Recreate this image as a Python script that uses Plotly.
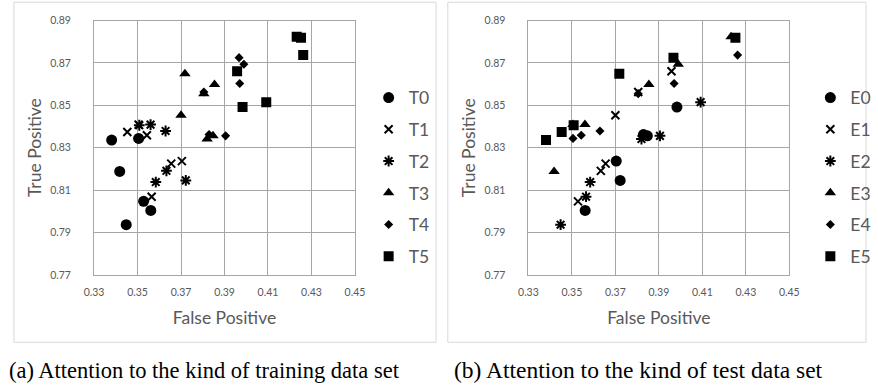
import plotly.graph_objects as go

# Test-set labels (columns) and training-set labels (rows)
test_sets = ["E0", "E1", "E2", "E3", "E4", "E5"]
train_sets = ["T0", "T1", "T2", "T3", "T4", "T5"]

# False positive / true positive for each training set, ordered by test set E0..E5
fp_T0 = [0.3561, 0.3528, 0.3448, 0.3418, 0.3505, 0.3381]
tp_T0 = [0.8004, 0.8047, 0.7937, 0.8188, 0.8344, 0.8336]
fp_T1 = [0.3704, 0.3655, 0.3565, 0.3505, 0.3543, 0.3453]
tp_T1 = [0.8237, 0.8225, 0.8069, 0.8409, 0.8359, 0.8374]
fp_T2 = [0.3722, 0.3633, 0.3584, 0.3560, 0.3629, 0.3508]
tp_T2 = [0.8146, 0.8191, 0.8138, 0.8409, 0.8379, 0.8406]
fp_T3 = [0.3847, 0.3700, 0.3820, 0.3854, 0.3805, 0.3718]
tp_T3 = [0.8356, 0.8453, 0.8341, 0.8598, 0.8555, 0.8649]
fp_T4 = [0.3829, 0.3805, 0.3905, 0.3989, 0.3970, 0.3967]
tp_T4 = [0.8362, 0.8563, 0.8356, 0.8694, 0.8603, 0.8725]
fp_T5 = [0.3983, 0.3958, 0.4092, 0.4232, 0.4262, 0.4252]
tp_T5 = [0.8492, 0.8661, 0.8515, 0.8824, 0.8737, 0.8819]

fp_rows = [fp_T0, fp_T1, fp_T2, fp_T3, fp_T4, fp_T5]
tp_rows = [tp_T0, tp_T1, tp_T2, tp_T3, tp_T4, tp_T5]

x_ticks = [0.33, 0.35, 0.37, 0.39, 0.41, 0.43, 0.45]
y_ticks = [0.77, 0.79, 0.81, 0.83, 0.85, 0.87, 0.89]

symbols = ["circle", "x-thin-open", "asterisk-open", "triangle-up", "diamond", "square"]
sizes = [11, 8, 9, 10, 7, 10]

W, H = 878, 388
GRAY = "#595959"
GRID = "#a6a6a6"

fig = go.Figure()

# Left: grouped by training set
for i, name in enumerate(train_sets):
    fig.add_trace(go.Scatter(
        x=fp_rows[i], y=tp_rows[i], mode="markers", name=name,
        legend="legend", legendgroup="L" + name,
        marker=dict(symbol=symbols[i], size=sizes[i], color="black",
                    line=dict(color="black", width=2 if i in (1, 2) else 0)),
        xaxis="x", yaxis="y"))

# Right: grouped by test set
for j, name in enumerate(test_sets):
    fig.add_trace(go.Scatter(
        x=[fp_rows[i][j] for i in range(6)], y=[tp_rows[i][j] for i in range(6)],
        mode="markers", name=name,
        legend="legend2", legendgroup="R" + name,
        marker=dict(symbol=symbols[j], size=sizes[j], color="black",
                    line=dict(color="black", width=2 if j in (1, 2) else 0)),
        xaxis="x2", yaxis="y2"))

ydom = [1 - 277.5 / H, 1 - 15 / H]
axis_common = dict(showgrid=True, gridcolor=GRID, gridwidth=1, zeroline=False,
                   showline=True, mirror=True, linecolor=GRID, linewidth=1,
                   tickfont=dict(family="Lato", size=10.5, color=GRAY),
                   tickmode="array")
xcommon = dict(axis_common, range=[0.33, 0.45], tickvals=x_ticks,
               ticktext=[f"{v:.2f}" for v in x_ticks], ticklabelstandoff=7,
               title=dict(text="False Positive", font=dict(family="Lato", size=17.5, color=GRAY), standoff=15))
ycommon = dict(axis_common, range=[0.77, 0.89], tickvals=y_ticks,
               ticktext=[f"{v:.2f}" for v in y_ticks], ticklabelstandoff=20,
               title=dict(text="True Positive", font=dict(family="Lato", size=17.5, color=GRAY), standoff=4))

legend_common = dict(xanchor="left", yanchor="top",
                     font=dict(family="Lato", size=17.5, color=GRAY), tracegroupgap=6,
                     bgcolor="rgba(0,0,0,0)", itemwidth=30)

fig.update_layout(
    width=W, height=H, margin=dict(l=0, r=0, t=0, b=0),
    paper_bgcolor="white", plot_bgcolor="white",
    xaxis=dict(xcommon, domain=[86 / W, 353 / W], anchor="y"),
    yaxis=dict(ycommon, domain=ydom, anchor="x"),
    xaxis2=dict(xcommon, domain=[530.5 / W, 797.5 / W], anchor="y2"),
    yaxis2=dict(ycommon, domain=ydom, anchor="x2"),
    legend=dict(legend_common, x=367 / W, y=1 - 76 / H),
    legend2=dict(legend_common, x=819 / W, y=1 - 76 / H),
    shapes=[
        dict(type="rect", xref="paper", yref="paper", x0=4 / W, x1=436 / W,
             y0=1 - 347 / H, y1=1.01, line=dict(color="#d9d9d9", width=1)),
        dict(type="rect", xref="paper", yref="paper", x0=448 / W, x1=876 / W,
             y0=1 - 347 / H, y1=1.01, line=dict(color="#d9d9d9", width=1)),
    ],
    annotations=[
        dict(text="(a) Attention to the kind of training data set", xref="paper", yref="paper",
             x=-3 / W, y=1 - 376 / H, xanchor="left", yanchor="middle", showarrow=False,
             font=dict(family="Liberation Serif", size=22.5, color="black")),
        dict(text="(b) Attention to the kind of test data set", xref="paper", yref="paper",
             x=452 / W, y=1 - 376 / H, xanchor="left", yanchor="middle", showarrow=False,
             font=dict(family="Liberation Serif", size=23.5, color="black")),
    ],
)

fig.write_html("out.html")
